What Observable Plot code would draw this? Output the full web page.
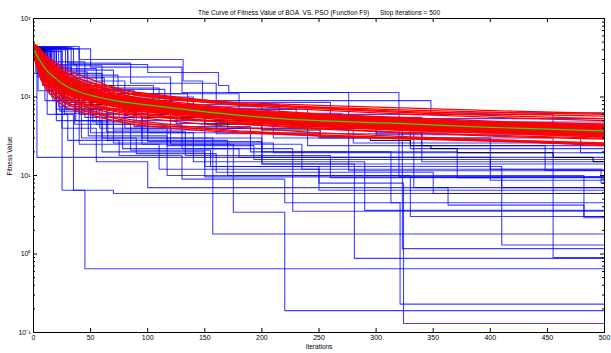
<!DOCTYPE html>
<html><head><meta charset="utf-8">
<script src="https://cdn.jsdelivr.net/npm/d3@7"></script>
<script src="https://cdn.jsdelivr.net/npm/@observablehq/plot@0.6"></script>
<style>html,body{margin:0;padding:0;background:#fff}svg{display:block}</style>
</head><body><div id="chart"></div>
<script>
const titleText = "The Curve of Fitness Value of BOA\u00a0\u00a0VS. PSO (Function F9)\u00a0\u00a0\u00a0\u00a0\u00a0\u00a0Stop Iterations = 500";
const xLabel = "Iterations";
const yLabel = "Fitness Value";
const xTicks = [0,50,100,150,200,250,300,350,400,450,500];
const yTicks = [0.1,1,10,100,1000];
const yTickLabels = ["10\u207b\u00b9","10\u2070","10\u00b9","10\u00b2","10\u00b3"];

// BOA runs (blue): [iteration, best fitness] breakpoints of step curves
const boaRuns = [
  [[0,420],[3,17],[500,17]],
  [[0,400],[6,230],[14,160],[25,6.5],[45,0.65],[500,0.65]],
  [[0,390],[10,200],[20,60],[35,6.5],[70,5.9],[500,5.9]],
  [[0,410],[12,180],[28,70],[60,30],[157,1.8],[500,1.8]],
  [[0,400],[15,150],[40,60],[120,25],[175,3.4],[220,0.19],[500,0.19]],
  [[0,430],[22,110],[55,45],[130,22],[227,3.5],[500,3.5]],
  [[0,400],[30,90],[95,30],[200,14],[281,0.88],[500,0.88]],
  [[0,380],[25,120],[88,42],[190,20],[313,4.5],[321,0.23],[500,0.23]],
  [[0,410],[18,140],[70,38],[150,13],[250,8],[324,0.13],[500,0.13]],
  [[0,440],[40,300],[131,160],[148,90],[348,63],[500,63]],
  [[0,420],[35,260],[100,205],[162,140],[171,114],[276,11.5],[500,11.5]],
  [[0,410],[50,240],[130,114],[320,9.6],[500,9.6]],
  [[0,400],[8,250],[60,130],[110,75],[200,48],[333,7],[363,4.2],[482,3.0],[500,3.0]],
  [[0,430],[10,280],[45,95],[120,55],[340,24],[448,11.6],[500,11.6]],
  [[0,390],[5,200],[30,80],[80,40],[200,20],[371,9.4],[410,1.3],[500,1.3]],
  [[0,420],[20,150],[50,70],[100,35],[250,30],[455,0.9],[500,0.9]],
  [[0,400],[12,170],[40,80],[90,50],[210,30],[400,8.7],[500,8.7]],
  [[0,410],[15,190],[35,100],[75,55],[150,40],[323,1.17],[500,1.17]],
  [[0,420],[25,220],[70,90],[140,55],[300,35],[479,19.5],[500,19.5]],
  [[0,400],[18,200],[60,110],[180,60],[455,34],[500,34]],
  [[0,430],[30,270],[85,150],[160,85],[260,53],[500,53]],
  [[0,410],[40,180],[120,70],[240,24],[500,24]],
  [[0,390],[4,120],[20,50],[60,20],[150,9.6],[500,9.6]],
  [[0,420],[8,140],[25,40],[55,15],[100,7],[500,7]],
  [[0,400],[10,90],[40,25],[110,12],[250,6.5],[500,6.5]],
  [[0,410],[16,100],[50,35],[140,15],[290,3.6],[500,3.6]],
  [[0,380],[20,70],[65,28],[170,10],[330,3.0],[500,3.0]],
  [[0,420],[6,170],[22,75],[48,32],[117,10],[482,2.9],[500,2.9]],
  [[0,400],[14,130],[45,55],[95,25],[235,12],[497,8],[500,8]],
  [[0,430],[28,160],[80,60],[160,34],[340,15],[500,15]],
  [[0,420],[3,300],[14,110],[37,50],[78,22],[180,17],[400,12],[500,12]],
  [[0,410],[9,210],[26,85],[64,36],[133,18],[260,9.4],[500,9.4]],
  [[0,400],[11,240],[33,120],[83,65],[170,40],[330,22],[500,22]],
  [[0,390],[7,160],[19,95],[52,48],[100,27],[200,14],[500,14]],
  [[0,420],[12,260],[38,140],[105,80],[215,45],[385,38],[500,38]],
  [[0,410],[20,230],[55,125],[115,70],[230,42],[490,34],[500,34]],
  [[0,400],[5,250],[17,90],[42,30],[90,19],[160,11],[350,5.9],[500,5.9]],
  [[0,430],[33,190],[74,100],[140,50],[280,26],[500,26]],
  [[0,395],[2,200],[12,60],[30,28],[75,18],[130,9],[220,4.5],[500,4.5]],
  [[0,415],[24,175],[62,80],[125,46],[300,33],[500,33]],
  [[0,405],[9,140],[27,62],[70,26],[210,19.5],[500,19.5]],
  [[0,420],[16,210],[47,110],[135,62],[270,48],[500,48]],
  [[0,400],[4,180],[23,66],[58,40],[117,24],[193,16],[500,16]],
  [[0,410],[13,120],[36,45],[85,21],[155,13],[410,7],[500,7]]
];

// BOA average curve (black)
const boaMean = [[0,400],[10,200],[25,120],[50,80],[100,55],[150,45],[200,38],[251,31],[295,28],[330,24],[348,22],[371,19.5],[455,17],[490,15],[500,15]];

// PSO runs (red): values at these iterations
const psoIters = [0,3,7,12,20,30,45,65,90,130,180,250,330,420,500];
const psoRuns = [
  [420,350,270,220,175,140,115,97,84,72,60,52,46,41,38],
  [400,320,240,195,150,120,98,84,72,62,55,50,47,42,40],
  [450,380,300,250,200,165,135,115,98,84,71,61,54,48,45],
  [380,300,220,180,140,112,92,78,68,58,49,43,38,34,31],
  [430,370,290,240,190,150,122,104,90,77,65,56,49,44,41],
  [410,330,250,200,160,128,104,88,76,65,55,47,42,38,35],
  [460,400,320,260,210,170,135,110,92,76,63,53,46,40,36],
  [370,280,200,160,125,100,82,70,61,53,45,39,35,31,29],
  [440,360,280,230,185,150,120,102,88,75,63,55,48,43,40],
  [390,310,235,190,150,118,95,80,70,60,51,44,39,35,32],
  [420,340,265,215,172,140,113,96,85,71,61,52,47,41,38],
  [470,410,330,270,220,178,145,124,106,92,78,68,60,54,50],
  [360,270,195,155,118,95,80,72,66,60,52,45,40,36,33],
  [435,355,275,225,182,146,118,100,86,73,62,53,47,42,39],
  [400,330,250,205,165,132,108,92,79,67,57,49,43,39,36],
  [450,390,310,255,205,160,125,102,86,72,60,50,43,38,34],
  [385,295,215,172,133,106,86,73,63,54,46,40,35,32,30],
  [425,345,268,218,176,142,116,99,86,73,62,54,48,43,40],
  [415,335,255,205,162,130,105,89,77,66,56,48,43,38,35],
  [445,375,295,245,198,160,130,110,95,81,68,59,52,46,43],
  [375,290,210,168,130,108,92,82,74,65,57,50,45,41,38],
  [430,360,285,235,190,155,127,108,93,80,68,59,52,46,43],
  [405,325,245,198,158,126,102,86,74,63,53,46,41,37,34],
  [455,395,315,258,208,170,140,118,98,80,66,56,48,42,39],
  [395,315,238,192,152,121,98,83,71,61,52,45,40,36,33],
  [420,345,268,222,180,146,120,102,88,76,64,56,49,44,41],
  [365,275,198,158,122,98,79,68,58,52,47,42,39,36,34],
  [440,365,288,236,190,154,125,106,91,78,66,57,50,45,42],
  [410,328,248,200,160,128,103,87,75,64,54,47,42,37,34],
  [480,430,360,300,240,195,160,135,115,98,82,71,63,57,53],
  [390,305,225,182,142,114,92,78,67,57,49,42,37,34,31],
  [425,350,275,228,185,150,122,104,89,77,65,56,50,44,41],
  [400,318,240,194,154,123,100,85,73,62,53,46,40,36,34],
  [350,260,185,148,114,92,75,64,55,48,41,35,31,28,25],
  [445,370,292,240,194,158,128,109,94,80,68,59,52,47,44],
  [415,338,260,212,170,137,111,94,81,69,59,51,45,40,37],
  [330,240,160,120,90,72,62,52,44,39,35,32,29,27,25],
  [340,250,170,130,100,80,66,56,47,41,36,32,30,28,26],
  [360,265,180,138,105,84,70,58,50,43,37,33,30,27,24],
  [480,450,390,330,270,220,180,140,112,95,85,78,72,66,62],
  [470,440,370,310,250,200,160,128,105,90,80,72,65,60,57],
  [460,420,350,290,230,185,150,125,108,94,82,74,68,63,60],
  [430,330,240,185,145,118,100,88,80,71,63,56,50,46,43],
  [410,360,290,235,180,140,110,90,76,64,54,46,41,37,35],
  [440,350,255,200,155,125,104,90,79,68,60,53,48,44,42],
  [395,300,230,190,155,130,108,92,80,68,57,48,42,37,33],
  [455,385,305,240,185,145,117,98,84,72,62,55,50,47,45],
  [380,310,245,200,160,128,103,86,73,62,53,46,41,38,36],
  [425,340,250,200,158,128,106,92,80,70,62,55,49,44,40],
  [405,335,262,213,168,134,108,91,78,66,56,49,44,40,38]
];

// PSO average curve (green)
const psoMeanIters = [0,5,12,20,26,41,56,75,94,130,172,216,321,400,500];
const psoMean = [420,300,215,170,145,115,100,88,81,70,60,53,46,41,37];

const W = 611, H = 353, mL = 33, mR = 7, mT = 18, mB = 21;
const iw = W - mL - mR, ih = H - mT - mB;

const blueData = boaRuns.flatMap((run, i) => run.map(([x, y]) => ({x, y, z: i})));
const blackData = boaMean.map(([x, y]) => ({x, y}));
const redData = psoRuns.flatMap((run, i) => run.map((y, j) => ({x: psoIters[j], y, z: i})));
const greenData = psoMean.map((y, j) => ({x: psoMeanIters[j], y}));

const minorTicks = [];
for (let d = -1; d < 3; d++) for (let k = 2; k <= 9; k++) minorTicks.push(k * Math.pow(10, d));

const font = "'Liberation Sans', Arial, Helvetica, sans-serif";
const chart = Plot.plot({
  width: W, height: H,
  marginLeft: mL, marginRight: mR, marginTop: mT, marginBottom: mB,
  style: {fontFamily: font, fontSize: "7px", background: "#fff", color: "#000", overflow: "visible"},
  x: {domain: [0, 500], label: null},
  y: {type: "log", domain: [0.1, 1000], label: null},
  marks: [
    Plot.line(blueData, {x: "x", y: "y", z: "z", curve: "step-after", stroke: "#0000ff", strokeOpacity: 0.75, strokeWidth: 1.1, clip: true}),
    Plot.line(blackData, {x: "x", y: "y", curve: "step-after", stroke: "#000", strokeWidth: 1, clip: true}),
    Plot.line(redData, {x: "x", y: "y", z: "z", stroke: "#ff0000", strokeWidth: 1.3, clip: true}),
    Plot.line(greenData, {x: "x", y: "y", curve: "monotone-x", stroke: "#22dd22", strokeWidth: 1.2, clip: true}),
    Plot.frame({stroke: "#000", strokeWidth: 1}),
    Plot.tickX(xTicks, {x: d => d, insetTop: ih - 4, stroke: "#000"}),
    Plot.tickX(xTicks, {x: d => d, insetBottom: ih - 4, stroke: "#000"}),
    Plot.tickY(yTicks, {y: d => d, insetRight: iw - 4, stroke: "#000"}),
    Plot.tickY(yTicks, {y: d => d, insetLeft: iw - 4, stroke: "#000"}),
    Plot.tickY(minorTicks, {y: d => d, insetRight: iw - 2, stroke: "#000"}),
    Plot.tickY(minorTicks, {y: d => d, insetLeft: iw - 2, stroke: "#000"}),
    Plot.axisX({ticks: xTicks, tickSize: 0, tickPadding: 3, label: null, fontSize: 7}),
    Plot.axisY({ticks: yTicks, tickSize: 0, tickPadding: 3, label: null, fontSize: 7,
      tickFormat: d => yTickLabels[yTicks.indexOf(d)]}),
    Plot.text([titleText], {frameAnchor: "top", dy: -8, fontSize: 6.5, fill: "#000"}),
    Plot.text([xLabel], {frameAnchor: "bottom", dy: 16, fontSize: 6.5, fill: "#000"}),
    Plot.text([yLabel], {frameAnchor: "left", dx: -24, rotate: -90, fontSize: 6.5, fill: "#000"})
  ]
});
document.getElementById("chart").appendChild(chart);
</script>
</body></html>
